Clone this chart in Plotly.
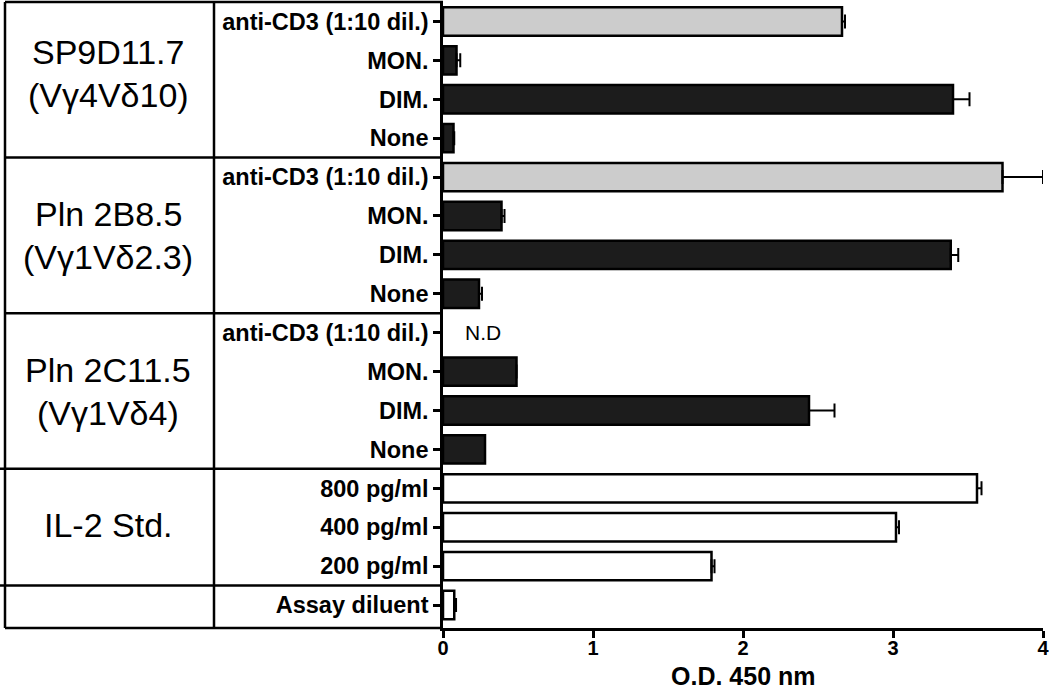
import plotly.graph_objects as go

# ---- data ----
group_names = ["SP9D11.7", "Pln 2B8.5", "Pln 2C11.5", "IL-2 Std.", ""]
group_subs = ["(Vγ4Vδ10)", "(Vγ1Vδ2.3)", "(Vγ1Vδ4)", "", ""]
group_sizes = [4, 4, 4, 3, 1]

row_labels = [
    "anti-CD3 (1:10 dil.)", "MON.", "DIM.", "None",
    "anti-CD3 (1:10 dil.)", "MON.", "DIM.", "None",
    "anti-CD3 (1:10 dil.)", "MON.", "DIM.", "None",
    "800 pg/ml", "400 pg/ml", "200 pg/ml", "Assay diluent",
]
od_values = [2.66, 0.09, 3.40, 0.07,
             3.73, 0.39, 3.385, 0.24,
             None, 0.49, 2.44, 0.28,
             3.56, 3.02, 1.79, 0.075]
od_upper = [2.68, 0.115, 3.51, 0.075,
            4.00, 0.41, 3.435, 0.26,
            None, 0.49, 2.61, 0.28,
            3.59, 3.04, 1.81, 0.087]
fill_kind = ["gray", "dark", "dark", "dark",
             "gray", "dark", "dark", "dark",
             "none", "dark", "dark", "dark",
             "white", "white", "white", "white"]
nd_label = "N.D"
x_ticks = [0, 1, 2, 3, 4]
x_title = "O.D. 450 nm"

# ---- styling ----
FONT = "Liberation Sans, Arial, Helvetica, sans-serif"
colors = {"gray": "#cccccc", "dark": "#1c1c1c", "white": "#ffffff"}
W, H = 1050, 691
ml, mr, mt, mb = 443, 7, 2, 63
range_top, range_bot = -0.5, 15.59

def py(v):
    return (range_bot - v) / (range_bot - range_top)

def px_x(pix):
    return (pix - ml) / (W - ml - mr)

fig = go.Figure()
positions = list(range(len(row_labels)))
for kind in ["gray", "dark", "white"]:
    ys, xs, errs = [], [], []
    for i in positions:
        if fill_kind[i] == kind and od_values[i] is not None:
            ys.append(i)
            xs.append(od_values[i])
            errs.append(od_upper[i] - od_values[i])
    fig.add_trace(go.Bar(
        x=xs, y=ys, orientation="h", width=0.73,
        marker=dict(color=colors[kind], line=dict(color="black", width=2.5)),
        error_x=dict(type="data", symmetric=False, array=errs,
                     arrayminus=[0] * len(errs), color="black",
                     thickness=2, width=7),
        showlegend=False,
    ))

shapes = []
line = dict(color="black", width=2.5)
xl = px_x(5)
xv = px_x(214)
# outer box
shapes.append(dict(type="line", xref="paper", yref="paper", x0=xl, x1=xl, y0=0, y1=1, line=line))
shapes.append(dict(type="line", xref="paper", yref="paper", x0=xl, x1=0, y0=1, y1=1, line=line))
shapes.append(dict(type="line", xref="paper", yref="paper", x0=xl, x1=0, y0=0, y1=0, line=line))
shapes.append(dict(type="line", xref="paper", yref="paper", x0=xv, x1=xv, y0=0, y1=1, line=line))

annotations = []
start = 0
for gi, size in enumerate(group_sizes):
    end = start + size
    if gi < len(group_sizes) - 1:
        b = end - 0.5
        x0 = xl if gi < 2 else px_x(0)
        shapes.append(dict(type="line", xref="paper", yref="paper", x0=x0, x1=0,
                           y0=py(b), y1=py(b), line=line))
    center = (start + end - 1) / 2
    extra = 6 if gi == 0 else 0
    if group_subs[gi]:
        annotations.append(dict(text=group_names[gi], xref="paper", yref="paper",
                                x=px_x(108), y=py(center), yshift=21.5 + extra,
                                showarrow=False, xanchor="center", yanchor="middle",
                                font=dict(family=FONT, size=34, color="black")))
        annotations.append(dict(text=group_subs[gi], xref="paper", yref="paper",
                                x=px_x(108), y=py(center), yshift=-21.5 + extra,
                                showarrow=False, xanchor="center", yanchor="middle",
                                font=dict(family=FONT, size=34, color="black")))
    elif group_names[gi]:
        annotations.append(dict(text=group_names[gi], xref="paper", yref="paper",
                                x=px_x(108), y=py(center), yshift=2,
                                showarrow=False, xanchor="center", yanchor="middle",
                                font=dict(family=FONT, size=34, color="black")))
    start = end

# N.D label for the missing value
for i in positions:
    if od_values[i] is None:
        annotations.append(dict(text=nd_label, x=0.13, y=i, xref="x", yref="y",
                                showarrow=False, xanchor="left", yanchor="middle",
                                font=dict(family=FONT, size=21, color="black")))

annotations.append(dict(text=x_title, xref="paper", yref="paper", x=0.5,
                        y=-(676 - (H - mb)) / (H - mt - mb), yanchor="middle",
                        showarrow=False, borderpad=0,
                        font=dict(family=FONT, size=25, color="black", weight="bold")))

fig.update_layout(
    width=W, height=H,
    margin=dict(l=ml, r=mr, t=mt, b=mb),
    paper_bgcolor="white", plot_bgcolor="white",
    barmode="overlay",
    shapes=shapes, annotations=annotations,
    xaxis=dict(range=[0, 4], tickvals=x_ticks, ticktext=[str(t) for t in x_ticks],
               showgrid=False, zeroline=False, showline=True, linecolor="black",
               linewidth=2.5, ticks="outside", ticklen=7, tickwidth=2.5,
               tickcolor="black", ticklabelstandoff=-7,
               tickfont=dict(family=FONT, size=20, color="black", weight="bold")),
    yaxis=dict(range=[range_bot, range_top], tickvals=positions, ticktext=row_labels,
               showgrid=False, zeroline=False, showline=True, linecolor="black",
               linewidth=2.5, ticks="outside", ticklen=7, tickwidth=2.5,
               tickcolor="black",
               tickfont=dict(family=FONT, size=23.5, color="black", weight="bold")),
)

fig.write_html("out.html", config={"displayModeBar": False},
               post_script="document.body.style.margin='0';document.body.style.overflow='hidden';")
